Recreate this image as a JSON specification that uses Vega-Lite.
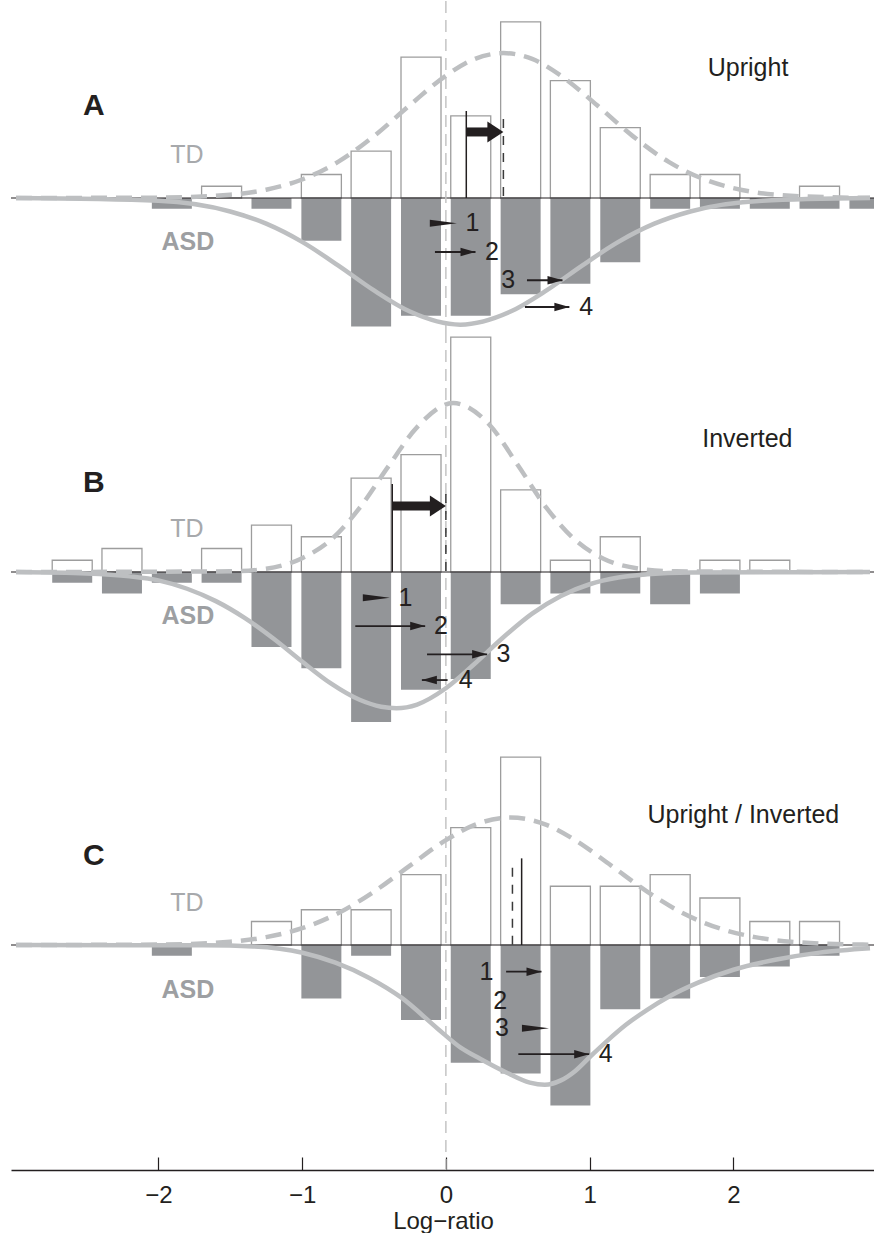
{
  "$schema": "https://vega.github.io/schema/vega-lite/v6.json",
  "padding": {"left": 10, "right": 0, "top": 0, "bottom": 0},
  "autosize": {"type": "pad"},
  "spacing": 0,
  "bounds": "flush",
  "config": {"view": {"stroke": null}, "font": "Liberation Sans"},
  "resolve": {"scale": {"x": "independent", "y": "independent"}},
  "datasets": {
    "bars": [
      {"panel": "A", "group": "TD", "x": -1.56, "y": 1.613},
      {"panel": "A", "group": "TD", "x": -0.866, "y": 3.226},
      {"panel": "A", "group": "TD", "x": -0.52, "y": 6.452},
      {"panel": "A", "group": "TD", "x": -0.173, "y": 19.355},
      {"panel": "A", "group": "TD", "x": 0.173, "y": 11.29},
      {"panel": "A", "group": "TD", "x": 0.52, "y": 24.194},
      {"panel": "A", "group": "TD", "x": 0.866, "y": 16.129},
      {"panel": "A", "group": "TD", "x": 1.213, "y": 9.677},
      {"panel": "A", "group": "TD", "x": 1.56, "y": 3.226},
      {"panel": "A", "group": "TD", "x": 1.906, "y": 3.226},
      {"panel": "A", "group": "TD", "x": 2.599, "y": 1.613},
      {"panel": "A", "group": "ASD", "x": -1.906, "y": -1.471},
      {"panel": "A", "group": "ASD", "x": -1.213, "y": -1.471},
      {"panel": "A", "group": "ASD", "x": -0.866, "y": -5.882},
      {"panel": "A", "group": "ASD", "x": -0.52, "y": -17.647},
      {"panel": "A", "group": "ASD", "x": -0.173, "y": -16.176},
      {"panel": "A", "group": "ASD", "x": 0.173, "y": -16.176},
      {"panel": "A", "group": "ASD", "x": 0.52, "y": -13.235},
      {"panel": "A", "group": "ASD", "x": 0.866, "y": -11.765},
      {"panel": "A", "group": "ASD", "x": 1.213, "y": -8.824},
      {"panel": "A", "group": "ASD", "x": 1.56, "y": -1.471},
      {"panel": "A", "group": "ASD", "x": 1.906, "y": -1.471},
      {"panel": "A", "group": "ASD", "x": 2.253, "y": -1.471},
      {"panel": "A", "group": "ASD", "x": 2.599, "y": -1.471},
      {"panel": "A", "group": "ASD", "x": 2.946, "y": -1.471},
      {"panel": "B", "group": "TD", "x": -2.599, "y": 1.613},
      {"panel": "B", "group": "TD", "x": -2.253, "y": 3.226},
      {"panel": "B", "group": "TD", "x": -1.56, "y": 3.226},
      {"panel": "B", "group": "TD", "x": -1.213, "y": 6.452},
      {"panel": "B", "group": "TD", "x": -0.866, "y": 4.839},
      {"panel": "B", "group": "TD", "x": -0.52, "y": 12.903},
      {"panel": "B", "group": "TD", "x": -0.173, "y": 16.129},
      {"panel": "B", "group": "TD", "x": 0.173, "y": 32.258},
      {"panel": "B", "group": "TD", "x": 0.52, "y": 11.29},
      {"panel": "B", "group": "TD", "x": 0.866, "y": 1.613},
      {"panel": "B", "group": "TD", "x": 1.213, "y": 4.839},
      {"panel": "B", "group": "TD", "x": 1.906, "y": 1.613},
      {"panel": "B", "group": "TD", "x": 2.253, "y": 1.613},
      {"panel": "B", "group": "ASD", "x": -2.599, "y": -1.471},
      {"panel": "B", "group": "ASD", "x": -2.253, "y": -2.941},
      {"panel": "B", "group": "ASD", "x": -1.906, "y": -1.471},
      {"panel": "B", "group": "ASD", "x": -1.56, "y": -1.471},
      {"panel": "B", "group": "ASD", "x": -1.213, "y": -10.294},
      {"panel": "B", "group": "ASD", "x": -0.866, "y": -13.235},
      {"panel": "B", "group": "ASD", "x": -0.52, "y": -20.588},
      {"panel": "B", "group": "ASD", "x": -0.173, "y": -16.176},
      {"panel": "B", "group": "ASD", "x": 0.173, "y": -14.706},
      {"panel": "B", "group": "ASD", "x": 0.52, "y": -4.412},
      {"panel": "B", "group": "ASD", "x": 0.866, "y": -2.941},
      {"panel": "B", "group": "ASD", "x": 1.213, "y": -2.941},
      {"panel": "B", "group": "ASD", "x": 1.56, "y": -4.412},
      {"panel": "B", "group": "ASD", "x": 1.906, "y": -2.941},
      {"panel": "C", "group": "TD", "x": -1.213, "y": 3.226},
      {"panel": "C", "group": "TD", "x": -0.866, "y": 4.839},
      {"panel": "C", "group": "TD", "x": -0.52, "y": 4.839},
      {"panel": "C", "group": "TD", "x": -0.173, "y": 9.677},
      {"panel": "C", "group": "TD", "x": 0.173, "y": 16.129},
      {"panel": "C", "group": "TD", "x": 0.52, "y": 25.806},
      {"panel": "C", "group": "TD", "x": 0.866, "y": 8.065},
      {"panel": "C", "group": "TD", "x": 1.213, "y": 8.065},
      {"panel": "C", "group": "TD", "x": 1.56, "y": 9.677},
      {"panel": "C", "group": "TD", "x": 1.906, "y": 6.452},
      {"panel": "C", "group": "TD", "x": 2.253, "y": 3.226},
      {"panel": "C", "group": "TD", "x": 2.599, "y": 3.226},
      {"panel": "C", "group": "ASD", "x": -1.906, "y": -1.471},
      {"panel": "C", "group": "ASD", "x": -0.866, "y": -7.353},
      {"panel": "C", "group": "ASD", "x": -0.52, "y": -1.471},
      {"panel": "C", "group": "ASD", "x": -0.173, "y": -10.294},
      {"panel": "C", "group": "ASD", "x": 0.173, "y": -16.176},
      {"panel": "C", "group": "ASD", "x": 0.52, "y": -17.647},
      {"panel": "C", "group": "ASD", "x": 0.866, "y": -22.059},
      {"panel": "C", "group": "ASD", "x": 1.213, "y": -8.824},
      {"panel": "C", "group": "ASD", "x": 1.56, "y": -7.353},
      {"panel": "C", "group": "ASD", "x": 1.906, "y": -4.412},
      {"panel": "C", "group": "ASD", "x": 2.253, "y": -2.941},
      {"panel": "C", "group": "ASD", "x": 2.599, "y": -1.471}
    ],
    "curves": [
      {"panel": "A", "group": "TD", "x": -2.99, "y": 0},
      {"panel": "A", "group": "TD", "x": -2.0, "y": 0.05},
      {"panel": "A", "group": "TD", "x": -1.5, "y": 0.45},
      {"panel": "A", "group": "TD", "x": -1.25, "y": 1.14},
      {"panel": "A", "group": "TD", "x": -1.0, "y": 2.54},
      {"panel": "A", "group": "TD", "x": -0.75, "y": 4.96},
      {"panel": "A", "group": "TD", "x": -0.5, "y": 8.5},
      {"panel": "A", "group": "TD", "x": -0.25, "y": 12.77},
      {"panel": "A", "group": "TD", "x": 0.0, "y": 16.8},
      {"panel": "A", "group": "TD", "x": 0.2, "y": 19.1},
      {"panel": "A", "group": "TD", "x": 0.4, "y": 19.9},
      {"panel": "A", "group": "TD", "x": 0.6, "y": 19.1},
      {"panel": "A", "group": "TD", "x": 0.8, "y": 16.8},
      {"panel": "A", "group": "TD", "x": 1.05, "y": 12.77},
      {"panel": "A", "group": "TD", "x": 1.3, "y": 8.5},
      {"panel": "A", "group": "TD", "x": 1.55, "y": 4.96},
      {"panel": "A", "group": "TD", "x": 1.8, "y": 2.54},
      {"panel": "A", "group": "TD", "x": 2.05, "y": 1.14},
      {"panel": "A", "group": "TD", "x": 2.3, "y": 0.45},
      {"panel": "A", "group": "TD", "x": 2.8, "y": 0.05},
      {"panel": "A", "group": "TD", "x": 2.95, "y": 0.02},
      {"panel": "A", "group": "ASD", "x": -2.99, "y": 0},
      {"panel": "A", "group": "ASD", "x": -2.0, "y": -0.37},
      {"panel": "A", "group": "ASD", "x": -1.5, "y": -1.85},
      {"panel": "A", "group": "ASD", "x": -1.25, "y": -3.53},
      {"panel": "A", "group": "ASD", "x": -1.0, "y": -6.03},
      {"panel": "A", "group": "ASD", "x": -0.75, "y": -9.25},
      {"panel": "A", "group": "ASD", "x": -0.5, "y": -12.7},
      {"panel": "A", "group": "ASD", "x": -0.25, "y": -15.6},
      {"panel": "A", "group": "ASD", "x": 0.1, "y": -17.4},
      {"panel": "A", "group": "ASD", "x": 0.45, "y": -15.6},
      {"panel": "A", "group": "ASD", "x": 0.7, "y": -12.7},
      {"panel": "A", "group": "ASD", "x": 0.95, "y": -9.25},
      {"panel": "A", "group": "ASD", "x": 1.2, "y": -6.03},
      {"panel": "A", "group": "ASD", "x": 1.45, "y": -3.53},
      {"panel": "A", "group": "ASD", "x": 1.7, "y": -1.85},
      {"panel": "A", "group": "ASD", "x": 2.2, "y": -0.37},
      {"panel": "A", "group": "ASD", "x": 2.95, "y": 0},
      {"panel": "B", "group": "TD", "x": -2.99, "y": 0},
      {"panel": "B", "group": "TD", "x": -1.5, "y": 0.09},
      {"panel": "B", "group": "TD", "x": -1.25, "y": 0.45},
      {"panel": "B", "group": "TD", "x": -1.0, "y": 1.9},
      {"panel": "B", "group": "TD", "x": -0.8, "y": 4.4},
      {"panel": "B", "group": "TD", "x": -0.6, "y": 8.8},
      {"panel": "B", "group": "TD", "x": -0.4, "y": 14.5},
      {"panel": "B", "group": "TD", "x": -0.2, "y": 19.9},
      {"panel": "B", "group": "TD", "x": 0.05, "y": 23.2},
      {"panel": "B", "group": "TD", "x": 0.3, "y": 20.3},
      {"panel": "B", "group": "TD", "x": 0.5, "y": 14.7},
      {"panel": "B", "group": "TD", "x": 0.7, "y": 8.8},
      {"panel": "B", "group": "TD", "x": 0.9, "y": 4.4},
      {"panel": "B", "group": "TD", "x": 1.1, "y": 1.8},
      {"panel": "B", "group": "TD", "x": 1.35, "y": 0.45},
      {"panel": "B", "group": "TD", "x": 1.6, "y": 0.09},
      {"panel": "B", "group": "TD", "x": 2.95, "y": 0},
      {"panel": "B", "group": "ASD", "x": -2.99, "y": 0},
      {"panel": "B", "group": "ASD", "x": -2.5, "y": -0.2},
      {"panel": "B", "group": "ASD", "x": -2.2, "y": -0.6},
      {"panel": "B", "group": "ASD", "x": -2.0, "y": -1.15},
      {"panel": "B", "group": "ASD", "x": -1.8, "y": -2.3},
      {"panel": "B", "group": "ASD", "x": -1.6, "y": -4.0},
      {"panel": "B", "group": "ASD", "x": -1.4, "y": -6.3},
      {"panel": "B", "group": "ASD", "x": -1.2, "y": -9.13},
      {"panel": "B", "group": "ASD", "x": -1.0, "y": -12.3},
      {"panel": "B", "group": "ASD", "x": -0.8, "y": -15.3},
      {"panel": "B", "group": "ASD", "x": -0.6, "y": -17.55},
      {"panel": "B", "group": "ASD", "x": -0.45, "y": -18.5},
      {"panel": "B", "group": "ASD", "x": -0.344, "y": -18.7},
      {"panel": "B", "group": "ASD", "x": -0.2, "y": -18.2},
      {"panel": "B", "group": "ASD", "x": 0.0, "y": -15.97},
      {"panel": "B", "group": "ASD", "x": 0.2, "y": -12.6},
      {"panel": "B", "group": "ASD", "x": 0.4, "y": -8.96},
      {"panel": "B", "group": "ASD", "x": 0.6, "y": -5.72},
      {"panel": "B", "group": "ASD", "x": 0.8, "y": -3.29},
      {"panel": "B", "group": "ASD", "x": 1.0, "y": -1.68},
      {"panel": "B", "group": "ASD", "x": 1.2, "y": -0.76},
      {"panel": "B", "group": "ASD", "x": 1.4, "y": -0.32},
      {"panel": "B", "group": "ASD", "x": 1.7, "y": -0.07},
      {"panel": "B", "group": "ASD", "x": 2.95, "y": 0},
      {"panel": "C", "group": "TD", "x": -2.99, "y": 0},
      {"panel": "C", "group": "TD", "x": -2.0, "y": 0.05},
      {"panel": "C", "group": "TD", "x": -1.5, "y": 0.45},
      {"panel": "C", "group": "TD", "x": -1.25, "y": 1.08},
      {"panel": "C", "group": "TD", "x": -1.0, "y": 2.3},
      {"panel": "C", "group": "TD", "x": -0.75, "y": 4.36},
      {"panel": "C", "group": "TD", "x": -0.5, "y": 7.33},
      {"panel": "C", "group": "TD", "x": -0.25, "y": 10.9},
      {"panel": "C", "group": "TD", "x": 0.0, "y": 14.4},
      {"panel": "C", "group": "TD", "x": 0.2, "y": 16.5},
      {"panel": "C", "group": "TD", "x": 0.45, "y": 17.5},
      {"panel": "C", "group": "TD", "x": 0.7, "y": 16.5},
      {"panel": "C", "group": "TD", "x": 0.9, "y": 14.4},
      {"panel": "C", "group": "TD", "x": 1.15, "y": 10.9},
      {"panel": "C", "group": "TD", "x": 1.4, "y": 7.33},
      {"panel": "C", "group": "TD", "x": 1.65, "y": 4.36},
      {"panel": "C", "group": "TD", "x": 1.9, "y": 2.3},
      {"panel": "C", "group": "TD", "x": 2.15, "y": 1.08},
      {"panel": "C", "group": "TD", "x": 2.4, "y": 0.45},
      {"panel": "C", "group": "TD", "x": 2.9, "y": 0.05},
      {"panel": "C", "group": "TD", "x": 2.95, "y": 0.04},
      {"panel": "C", "group": "ASD", "x": -2.99, "y": 0},
      {"panel": "C", "group": "ASD", "x": -1.684, "y": -0.05},
      {"panel": "C", "group": "ASD", "x": -1.341, "y": -0.2},
      {"panel": "C", "group": "ASD", "x": -0.997, "y": -1.06},
      {"panel": "C", "group": "ASD", "x": -0.768, "y": -2.43},
      {"panel": "C", "group": "ASD", "x": -0.536, "y": -4.49},
      {"panel": "C", "group": "ASD", "x": -0.309, "y": -7.24},
      {"panel": "C", "group": "ASD", "x": -0.057, "y": -11.5},
      {"panel": "C", "group": "ASD", "x": 0.103, "y": -14.1},
      {"panel": "C", "group": "ASD", "x": 0.241, "y": -15.66},
      {"panel": "C", "group": "ASD", "x": 0.424, "y": -17.54},
      {"panel": "C", "group": "ASD", "x": 0.584, "y": -18.9},
      {"panel": "C", "group": "ASD", "x": 0.688, "y": -19.2},
      {"panel": "C", "group": "ASD", "x": 0.8, "y": -18.6},
      {"panel": "C", "group": "ASD", "x": 0.9, "y": -17.3},
      {"panel": "C", "group": "ASD", "x": 1.008, "y": -15.25},
      {"panel": "C", "group": "ASD", "x": 1.12, "y": -13.2},
      {"panel": "C", "group": "ASD", "x": 1.25, "y": -11.0},
      {"panel": "C", "group": "ASD", "x": 1.4, "y": -8.9},
      {"panel": "C", "group": "ASD", "x": 1.55, "y": -7.1},
      {"panel": "C", "group": "ASD", "x": 1.75, "y": -5.2},
      {"panel": "C", "group": "ASD", "x": 2.0, "y": -3.4},
      {"panel": "C", "group": "ASD", "x": 2.3, "y": -2.0},
      {"panel": "C", "group": "ASD", "x": 2.6, "y": -1.05},
      {"panel": "C", "group": "ASD", "x": 2.95, "y": -0.45}
    ],
    "means": [
      {"panel": "A", "group": "ASD", "x": 0.142, "y": 11.95},
      {"panel": "A", "group": "TD", "x": 0.4, "y": 10.85},
      {"panel": "B", "group": "ASD", "x": -0.373, "y": 12.1},
      {"panel": "B", "group": "TD", "x": 0.0, "y": 10.7},
      {"panel": "C", "group": "TD", "x": 0.463, "y": 10.6},
      {"panel": "C", "group": "ASD", "x": 0.527, "y": 11.9}
    ],
    "shifts": [
      {"panel": "A", "x": 0.142, "xe": 0.4, "y": 9.07},
      {"panel": "B", "x": -0.373, "xe": 0.0, "y": 9.07}
    ],
    "arrows": [
      {"panel": "A", "n": "1", "x": -0.103, "xe": 0.076, "y": -3.48},
      {"panel": "A", "n": "2", "x": -0.076, "xe": 0.206, "y": -7.42},
      {"panel": "A", "n": "3", "x": 0.564, "xe": 0.811, "y": -11.3},
      {"panel": "A", "n": "4", "x": 0.55, "xe": 0.859, "y": -14.97},
      {"panel": "B", "n": "1", "x": -0.573, "xe": -0.39, "y": -3.53},
      {"panel": "B", "n": "2", "x": -0.63, "xe": -0.144, "y": -7.42},
      {"panel": "B", "n": "3", "x": -0.131, "xe": 0.287, "y": -11.3},
      {"panel": "B", "n": "4", "x": 0.012, "xe": -0.167, "y": -14.84},
      {"panel": "C", "n": "1", "x": 0.419, "xe": 0.665, "y": -3.67},
      {"panel": "C", "n": "3", "x": 0.516, "xe": 0.717, "y": -11.45},
      {"panel": "C", "n": "4", "x": 0.504, "xe": 0.997, "y": -15.0}
    ],
    "labels": [
      {"panel": "A", "kind": "letter", "text": "A", "x": -2.448, "y": 12.64},
      {"panel": "A", "kind": "TD", "text": "TD", "x": -1.801, "y": 5.91},
      {"panel": "A", "kind": "ASD", "text": "ASD", "x": -1.794, "y": -6.04},
      {"panel": "A", "kind": "condition", "text": "Upright", "x": 2.102, "y": 17.9},
      {"panel": "A", "kind": "number", "text": "1", "x": 0.184, "y": -3.48},
      {"panel": "A", "kind": "number", "text": "2", "x": 0.321, "y": -7.42},
      {"panel": "A", "kind": "number", "text": "3", "x": 0.433, "y": -11.3},
      {"panel": "A", "kind": "number", "text": "4", "x": 0.976, "y": -14.97},
      {"panel": "B", "kind": "letter", "text": "B", "x": -2.448, "y": 12.23},
      {"panel": "B", "kind": "TD", "text": "TD", "x": -1.801, "y": 5.95},
      {"panel": "B", "kind": "ASD", "text": "ASD", "x": -1.794, "y": -6.04},
      {"panel": "B", "kind": "condition", "text": "Inverted", "x": 2.097, "y": 18.27},
      {"panel": "B", "kind": "number", "text": "1", "x": -0.282, "y": -3.53},
      {"panel": "B", "kind": "number", "text": "2", "x": -0.034, "y": -7.42},
      {"panel": "B", "kind": "number", "text": "3", "x": 0.401, "y": -11.3},
      {"panel": "B", "kind": "number", "text": "4", "x": 0.138, "y": -14.84},
      {"panel": "C", "kind": "letter", "text": "C", "x": -2.448, "y": 12.23},
      {"panel": "C", "kind": "TD", "text": "TD", "x": -1.801, "y": 5.81},
      {"panel": "C", "kind": "ASD", "text": "ASD", "x": -1.794, "y": -6.18},
      {"panel": "C", "kind": "condition", "text": "Upright / Inverted", "x": 2.069, "y": 17.86},
      {"panel": "C", "kind": "number", "text": "1", "x": 0.282, "y": -3.67},
      {"panel": "C", "kind": "number", "text": "2", "x": 0.378, "y": -7.69},
      {"panel": "C", "kind": "number", "text": "3", "x": 0.39, "y": -11.45},
      {"panel": "C", "kind": "number", "text": "4", "x": 1.112, "y": -15.0}
    ]
  },
  "vconcat": [
    {
      "width": 864,
      "height": 330,
      "layer": [
        {"data": {"name": "bars"}, "transform": [{"filter": "datum.panel === 'A' && datum.group === 'TD'"}],
         "mark": {"type": "bar", "width": 40, "fill": "#ffffff", "stroke": "#9d9d9d", "strokeWidth": 1.3, "clip": true},
         "encoding": {
           "x": {"field": "x", "type": "quantitative", "scale": {"domain": [-2.99, 2.95], "nice": false, "zero": false}, "axis": null},
           "y": {"field": "y", "type": "quantitative", "scale": {"domain": [-18.27, 27.06], "nice": false, "zero": false}, "axis": null},
           "y2": {"datum": 0}}},
        {"data": {"name": "bars"}, "transform": [{"filter": "datum.panel === 'A' && datum.group === 'ASD'"}],
         "mark": {"type": "bar", "width": 40, "fill": "#939598", "strokeWidth": 0, "clip": true},
         "encoding": {
           "x": {"field": "x", "type": "quantitative", "scale": {"domain": [-2.99, 2.95], "nice": false, "zero": false}, "axis": null},
           "y": {"field": "y", "type": "quantitative", "scale": {"domain": [-18.27, 27.06], "nice": false, "zero": false}, "axis": null},
           "y2": {"datum": 0}}},
        {"data": {"values": [{}]}, "mark": {"type": "rule", "color": "#231f20", "strokeWidth": 1.2},
         "encoding": {"y": {"datum": 0, "type": "quantitative", "scale": {"domain": [-18.27, 27.06], "nice": false, "zero": false}, "axis": null}}},
        {"data": {"values": [{}]}, "mark": {"type": "rule", "color": "#c4c4c4", "strokeWidth": 1.5, "strokeDash": [12, 7]},
         "encoding": {"x": {"datum": 0, "type": "quantitative", "scale": {"domain": [-2.99, 2.95], "nice": false, "zero": false}, "axis": null}}},
        {"data": {"name": "curves"}, "transform": [{"filter": "datum.panel === 'A' && datum.group === 'ASD'"}],
         "mark": {"type": "line", "color": "#bdbfc1", "strokeWidth": 4.5, "interpolate": "monotone", "clip": true},
         "encoding": {
           "x": {"field": "x", "type": "quantitative", "scale": {"domain": [-2.99, 2.95], "nice": false, "zero": false}, "axis": null},
           "y": {"field": "y", "type": "quantitative", "scale": {"domain": [-18.27, 27.06], "nice": false, "zero": false}, "axis": null}}},
        {"data": {"name": "curves"}, "transform": [{"filter": "datum.panel === 'A' && datum.group === 'TD'"}],
         "mark": {"type": "line", "color": "#bdbfc1", "strokeWidth": 4.5, "strokeDash": [16, 9], "interpolate": "monotone", "clip": true},
         "encoding": {
           "x": {"field": "x", "type": "quantitative", "scale": {"domain": [-2.99, 2.95], "nice": false, "zero": false}, "axis": null},
           "y": {"field": "y", "type": "quantitative", "scale": {"domain": [-18.27, 27.06], "nice": false, "zero": false}, "axis": null}}},
        {"data": {"name": "means"}, "transform": [{"filter": "datum.panel === 'A' && datum.group === 'ASD'"}],
         "mark": {"type": "rule", "color": "#231f20", "strokeWidth": 1.5},
         "encoding": {
           "x": {"field": "x", "type": "quantitative", "scale": {"domain": [-2.99, 2.95], "nice": false, "zero": false}, "axis": null},
           "y": {"field": "y", "type": "quantitative", "scale": {"domain": [-18.27, 27.06], "nice": false, "zero": false}, "axis": null},
           "y2": {"datum": 0}}},
        {"data": {"name": "means"}, "transform": [{"filter": "datum.panel === 'A' && datum.group === 'TD'"}],
         "mark": {"type": "rule", "color": "#3a3a3a", "strokeWidth": 1.5, "strokeDash": [9, 8]},
         "encoding": {
           "x": {"field": "x", "type": "quantitative", "scale": {"domain": [-2.99, 2.95], "nice": false, "zero": false}, "axis": null},
           "y": {"field": "y", "type": "quantitative", "scale": {"domain": [-18.27, 27.06], "nice": false, "zero": false}, "axis": null},
           "y2": {"datum": 0}}},
        {"data": {"name": "shifts"}, "transform": [{"filter": "datum.panel === 'A'"}],
         "mark": {"type": "rule", "color": "#231f20", "strokeWidth": 9, "x2Offset": -14},
         "encoding": {
           "x": {"field": "x", "type": "quantitative", "scale": {"domain": [-2.99, 2.95], "nice": false, "zero": false}, "axis": null},
           "x2": {"field": "xe"},
           "y": {"field": "y", "type": "quantitative", "scale": {"domain": [-18.27, 27.06], "nice": false, "zero": false}, "axis": null}}},
        {"data": {"name": "shifts"}, "transform": [{"filter": "datum.panel === 'A'"}],
         "mark": {"type": "point", "shape": "M0,0L-1,-0.66L-1,0.66Z", "size": 1024, "filled": true, "opacity": 1, "color": "#231f20", "strokeWidth": 0},
         "encoding": {
           "x": {"field": "xe", "type": "quantitative", "scale": {"domain": [-2.99, 2.95], "nice": false, "zero": false}, "axis": null},
           "y": {"field": "y", "type": "quantitative", "scale": {"domain": [-18.27, 27.06], "nice": false, "zero": false}, "axis": null}}},
        {"data": {"name": "arrows"}, "transform": [{"filter": "datum.panel === 'A' && !(datum.xe > datum.x && datum.xe - datum.x < 0.21)"}],
         "mark": {"type": "rule", "color": "#231f20", "strokeWidth": 1.8},
         "encoding": {
           "x": {"field": "x", "type": "quantitative", "scale": {"domain": [-2.99, 2.95], "nice": false, "zero": false}, "axis": null},
           "x2": {"field": "xe"},
           "y": {"field": "y", "type": "quantitative", "scale": {"domain": [-18.27, 27.06], "nice": false, "zero": false}, "axis": null}}},
        {"data": {"name": "arrows"}, "transform": [{"filter": "datum.panel === 'A' && !(datum.xe > datum.x && datum.xe - datum.x < 0.21)"}],
         "mark": {"type": "point", "shape": "M0,0L-1,-0.28L-1,0.28Z", "size": 900, "filled": true, "opacity": 1, "color": "#231f20", "strokeWidth": 0},
         "encoding": {
           "x": {"field": "xe", "type": "quantitative", "scale": {"domain": [-2.99, 2.95], "nice": false, "zero": false}, "axis": null},
           "y": {"field": "y", "type": "quantitative", "scale": {"domain": [-18.27, 27.06], "nice": false, "zero": false}, "axis": null},
           "angle": {"condition": {"test": "datum.xe < datum.x", "value": 180}, "value": 0}}},
        {"data": {"name": "arrows"}, "transform": [{"filter": "datum.panel === 'A' && datum.xe > datum.x && datum.xe - datum.x < 0.21"}],
         "mark": {"type": "point", "shape": "M0,0L-1,-0.13L-1,0.13Z", "size": 2916, "filled": true, "opacity": 1, "color": "#231f20", "strokeWidth": 0},
         "encoding": {
           "x": {"field": "xe", "type": "quantitative", "scale": {"domain": [-2.99, 2.95], "nice": false, "zero": false}, "axis": null},
           "y": {"field": "y", "type": "quantitative", "scale": {"domain": [-18.27, 27.06], "nice": false, "zero": false}, "axis": null}}},
        {"data": {"name": "labels"}, "transform": [{"filter": "datum.panel === 'A' && datum.kind === 'letter'"}],
         "mark": {"type": "text", "fontSize": 30, "fontWeight": "bold", "color": "#231f20", "align": "center", "baseline": "middle"},
         "encoding": {
           "x": {"field": "x", "type": "quantitative", "scale": {"domain": [-2.99, 2.95], "nice": false, "zero": false}, "axis": null},
           "y": {"field": "y", "type": "quantitative", "scale": {"domain": [-18.27, 27.06], "nice": false, "zero": false}, "axis": null},
           "text": {"field": "text"}}},
        {"data": {"name": "labels"}, "transform": [{"filter": "datum.panel === 'A' && datum.kind === 'TD'"}],
         "mark": {"type": "text", "fontSize": 25, "color": "#a7a9ac", "align": "center", "baseline": "middle"},
         "encoding": {
           "x": {"field": "x", "type": "quantitative", "scale": {"domain": [-2.99, 2.95], "nice": false, "zero": false}, "axis": null},
           "y": {"field": "y", "type": "quantitative", "scale": {"domain": [-18.27, 27.06], "nice": false, "zero": false}, "axis": null},
           "text": {"field": "text"}}},
        {"data": {"name": "labels"}, "transform": [{"filter": "datum.panel === 'A' && datum.kind === 'ASD'"}],
         "mark": {"type": "text", "fontSize": 25, "fontWeight": "bold", "color": "#9d9fa2", "align": "center", "baseline": "middle"},
         "encoding": {
           "x": {"field": "x", "type": "quantitative", "scale": {"domain": [-2.99, 2.95], "nice": false, "zero": false}, "axis": null},
           "y": {"field": "y", "type": "quantitative", "scale": {"domain": [-18.27, 27.06], "nice": false, "zero": false}, "axis": null},
           "text": {"field": "text"}}},
        {"data": {"name": "labels"}, "transform": [{"filter": "datum.panel === 'A' && (datum.kind === 'condition' || datum.kind === 'number')"}],
         "mark": {"type": "text", "fontSize": 25, "color": "#231f20", "align": "center", "baseline": "middle"},
         "encoding": {
           "x": {"field": "x", "type": "quantitative", "scale": {"domain": [-2.99, 2.95], "nice": false, "zero": false}, "axis": null},
           "y": {"field": "y", "type": "quantitative", "scale": {"domain": [-18.27, 27.06], "nice": false, "zero": false}, "axis": null},
           "text": {"field": "text"}}}
      ]
    },
    {
      "width": 864,
      "height": 410,
      "layer": [
        {"data": {"name": "bars"}, "transform": [{"filter": "datum.panel === 'B' && datum.group === 'TD'"}],
         "mark": {"type": "bar", "width": 40, "fill": "#ffffff", "stroke": "#9d9d9d", "strokeWidth": 1.3, "clip": true},
         "encoding": {
           "x": {"field": "x", "type": "quantitative", "scale": {"domain": [-2.99, 2.95], "nice": false, "zero": false}, "axis": null},
           "y": {"field": "y", "type": "quantitative", "scale": {"domain": [-23.21, 33.1], "nice": false, "zero": false}, "axis": null},
           "y2": {"datum": 0}}},
        {"data": {"name": "bars"}, "transform": [{"filter": "datum.panel === 'B' && datum.group === 'ASD'"}],
         "mark": {"type": "bar", "width": 40, "fill": "#939598", "strokeWidth": 0, "clip": true},
         "encoding": {
           "x": {"field": "x", "type": "quantitative", "scale": {"domain": [-2.99, 2.95], "nice": false, "zero": false}, "axis": null},
           "y": {"field": "y", "type": "quantitative", "scale": {"domain": [-23.21, 33.1], "nice": false, "zero": false}, "axis": null},
           "y2": {"datum": 0}}},
        {"data": {"values": [{}]}, "mark": {"type": "rule", "color": "#231f20", "strokeWidth": 1.2},
         "encoding": {"y": {"datum": 0, "type": "quantitative", "scale": {"domain": [-23.21, 33.1], "nice": false, "zero": false}, "axis": null}}},
        {"data": {"values": [{}]}, "mark": {"type": "rule", "color": "#c4c4c4", "strokeWidth": 1.5, "strokeDash": [12, 7]},
         "encoding": {"x": {"datum": 0, "type": "quantitative", "scale": {"domain": [-2.99, 2.95], "nice": false, "zero": false}, "axis": null}}},
        {"data": {"name": "curves"}, "transform": [{"filter": "datum.panel === 'B' && datum.group === 'ASD'"}],
         "mark": {"type": "line", "color": "#bdbfc1", "strokeWidth": 4.5, "interpolate": "monotone", "clip": true},
         "encoding": {
           "x": {"field": "x", "type": "quantitative", "scale": {"domain": [-2.99, 2.95], "nice": false, "zero": false}, "axis": null},
           "y": {"field": "y", "type": "quantitative", "scale": {"domain": [-23.21, 33.1], "nice": false, "zero": false}, "axis": null}}},
        {"data": {"name": "curves"}, "transform": [{"filter": "datum.panel === 'B' && datum.group === 'TD'"}],
         "mark": {"type": "line", "color": "#bdbfc1", "strokeWidth": 4.5, "strokeDash": [16, 9], "interpolate": "monotone", "clip": true},
         "encoding": {
           "x": {"field": "x", "type": "quantitative", "scale": {"domain": [-2.99, 2.95], "nice": false, "zero": false}, "axis": null},
           "y": {"field": "y", "type": "quantitative", "scale": {"domain": [-23.21, 33.1], "nice": false, "zero": false}, "axis": null}}},
        {"data": {"name": "means"}, "transform": [{"filter": "datum.panel === 'B' && datum.group === 'ASD'"}],
         "mark": {"type": "rule", "color": "#231f20", "strokeWidth": 1.5},
         "encoding": {
           "x": {"field": "x", "type": "quantitative", "scale": {"domain": [-2.99, 2.95], "nice": false, "zero": false}, "axis": null},
           "y": {"field": "y", "type": "quantitative", "scale": {"domain": [-23.21, 33.1], "nice": false, "zero": false}, "axis": null},
           "y2": {"datum": 0}}},
        {"data": {"name": "means"}, "transform": [{"filter": "datum.panel === 'B' && datum.group === 'TD'"}],
         "mark": {"type": "rule", "color": "#3a3a3a", "strokeWidth": 1.5, "strokeDash": [9, 8]},
         "encoding": {
           "x": {"field": "x", "type": "quantitative", "scale": {"domain": [-2.99, 2.95], "nice": false, "zero": false}, "axis": null},
           "y": {"field": "y", "type": "quantitative", "scale": {"domain": [-23.21, 33.1], "nice": false, "zero": false}, "axis": null},
           "y2": {"datum": 0}}},
        {"data": {"name": "shifts"}, "transform": [{"filter": "datum.panel === 'B'"}],
         "mark": {"type": "rule", "color": "#231f20", "strokeWidth": 9, "x2Offset": -14},
         "encoding": {
           "x": {"field": "x", "type": "quantitative", "scale": {"domain": [-2.99, 2.95], "nice": false, "zero": false}, "axis": null},
           "x2": {"field": "xe"},
           "y": {"field": "y", "type": "quantitative", "scale": {"domain": [-23.21, 33.1], "nice": false, "zero": false}, "axis": null}}},
        {"data": {"name": "shifts"}, "transform": [{"filter": "datum.panel === 'B'"}],
         "mark": {"type": "point", "shape": "M0,0L-1,-0.66L-1,0.66Z", "size": 1024, "filled": true, "opacity": 1, "color": "#231f20", "strokeWidth": 0},
         "encoding": {
           "x": {"field": "xe", "type": "quantitative", "scale": {"domain": [-2.99, 2.95], "nice": false, "zero": false}, "axis": null},
           "y": {"field": "y", "type": "quantitative", "scale": {"domain": [-23.21, 33.1], "nice": false, "zero": false}, "axis": null}}},
        {"data": {"name": "arrows"}, "transform": [{"filter": "datum.panel === 'B' && !(datum.xe > datum.x && datum.xe - datum.x < 0.21)"}],
         "mark": {"type": "rule", "color": "#231f20", "strokeWidth": 1.8},
         "encoding": {
           "x": {"field": "x", "type": "quantitative", "scale": {"domain": [-2.99, 2.95], "nice": false, "zero": false}, "axis": null},
           "x2": {"field": "xe"},
           "y": {"field": "y", "type": "quantitative", "scale": {"domain": [-23.21, 33.1], "nice": false, "zero": false}, "axis": null}}},
        {"data": {"name": "arrows"}, "transform": [{"filter": "datum.panel === 'B' && !(datum.xe > datum.x && datum.xe - datum.x < 0.21)"}],
         "mark": {"type": "point", "shape": "M0,0L-1,-0.28L-1,0.28Z", "size": 900, "filled": true, "opacity": 1, "color": "#231f20", "strokeWidth": 0},
         "encoding": {
           "x": {"field": "xe", "type": "quantitative", "scale": {"domain": [-2.99, 2.95], "nice": false, "zero": false}, "axis": null},
           "y": {"field": "y", "type": "quantitative", "scale": {"domain": [-23.21, 33.1], "nice": false, "zero": false}, "axis": null},
           "angle": {"condition": {"test": "datum.xe < datum.x", "value": 180}, "value": 0}}},
        {"data": {"name": "arrows"}, "transform": [{"filter": "datum.panel === 'B' && datum.xe > datum.x && datum.xe - datum.x < 0.21"}],
         "mark": {"type": "point", "shape": "M0,0L-1,-0.13L-1,0.13Z", "size": 2916, "filled": true, "opacity": 1, "color": "#231f20", "strokeWidth": 0},
         "encoding": {
           "x": {"field": "xe", "type": "quantitative", "scale": {"domain": [-2.99, 2.95], "nice": false, "zero": false}, "axis": null},
           "y": {"field": "y", "type": "quantitative", "scale": {"domain": [-23.21, 33.1], "nice": false, "zero": false}, "axis": null}}},
        {"data": {"name": "labels"}, "transform": [{"filter": "datum.panel === 'B' && datum.kind === 'letter'"}],
         "mark": {"type": "text", "fontSize": 30, "fontWeight": "bold", "color": "#231f20", "align": "center", "baseline": "middle"},
         "encoding": {
           "x": {"field": "x", "type": "quantitative", "scale": {"domain": [-2.99, 2.95], "nice": false, "zero": false}, "axis": null},
           "y": {"field": "y", "type": "quantitative", "scale": {"domain": [-23.21, 33.1], "nice": false, "zero": false}, "axis": null},
           "text": {"field": "text"}}},
        {"data": {"name": "labels"}, "transform": [{"filter": "datum.panel === 'B' && datum.kind === 'TD'"}],
         "mark": {"type": "text", "fontSize": 25, "color": "#a7a9ac", "align": "center", "baseline": "middle"},
         "encoding": {
           "x": {"field": "x", "type": "quantitative", "scale": {"domain": [-2.99, 2.95], "nice": false, "zero": false}, "axis": null},
           "y": {"field": "y", "type": "quantitative", "scale": {"domain": [-23.21, 33.1], "nice": false, "zero": false}, "axis": null},
           "text": {"field": "text"}}},
        {"data": {"name": "labels"}, "transform": [{"filter": "datum.panel === 'B' && datum.kind === 'ASD'"}],
         "mark": {"type": "text", "fontSize": 25, "fontWeight": "bold", "color": "#9d9fa2", "align": "center", "baseline": "middle"},
         "encoding": {
           "x": {"field": "x", "type": "quantitative", "scale": {"domain": [-2.99, 2.95], "nice": false, "zero": false}, "axis": null},
           "y": {"field": "y", "type": "quantitative", "scale": {"domain": [-23.21, 33.1], "nice": false, "zero": false}, "axis": null},
           "text": {"field": "text"}}},
        {"data": {"name": "labels"}, "transform": [{"filter": "datum.panel === 'B' && (datum.kind === 'condition' || datum.kind === 'number')"}],
         "mark": {"type": "text", "fontSize": 25, "color": "#231f20", "align": "center", "baseline": "middle"},
         "encoding": {
           "x": {"field": "x", "type": "quantitative", "scale": {"domain": [-2.99, 2.95], "nice": false, "zero": false}, "axis": null},
           "y": {"field": "y", "type": "quantitative", "scale": {"domain": [-23.21, 33.1], "nice": false, "zero": false}, "axis": null},
           "text": {"field": "text"}}}
      ]
    },
    {
      "width": 864,
      "height": 429,
      "layer": [
        {"data": {"name": "bars"}, "transform": [{"filter": "datum.panel === 'C' && datum.group === 'TD'"}],
         "mark": {"type": "bar", "width": 40, "fill": "#ffffff", "stroke": "#9d9d9d", "strokeWidth": 1.3, "clip": true},
         "encoding": {
           "x": {"field": "x", "type": "quantitative", "scale": {"domain": [-2.99, 2.95], "nice": false, "zero": false},
                 "axis": {"values": [-2, -1, 0, 1, 2], "format": "d", "title": "Log−ratio", "grid": false,
                          "domainColor": "#231f20", "domainWidth": 1.5, "tickColor": "#231f20", "tickWidth": 1.2, "tickSize": -13,
                          "labelFont": "Liberation Sans", "labelFontSize": 24, "labelColor": "#231f20", "labelPadding": 26, "labelFlush": false,
                          "titleFont": "Liberation Sans", "titleFontSize": 24, "titleFontWeight": "normal", "titleColor": "#231f20", "titlePadding": 2}},
           "y": {"field": "y", "type": "quantitative", "scale": {"domain": [-30.91, 28.02], "nice": false, "zero": false}, "axis": null},
           "y2": {"datum": 0}}},
        {"data": {"name": "bars"}, "transform": [{"filter": "datum.panel === 'C' && datum.group === 'ASD'"}],
         "mark": {"type": "bar", "width": 40, "fill": "#939598", "strokeWidth": 0, "clip": true},
         "encoding": {
           "x": {"field": "x", "type": "quantitative", "scale": {"domain": [-2.99, 2.95], "nice": false, "zero": false}},
           "y": {"field": "y", "type": "quantitative", "scale": {"domain": [-30.91, 28.02], "nice": false, "zero": false}, "axis": null},
           "y2": {"datum": 0}}},
        {"data": {"values": [{}]}, "mark": {"type": "rule", "color": "#231f20", "strokeWidth": 1.2},
         "encoding": {"y": {"datum": 0, "type": "quantitative", "scale": {"domain": [-30.91, 28.02], "nice": false, "zero": false}, "axis": null}}},
        {"data": {"values": [{}]}, "mark": {"type": "rule", "color": "#c4c4c4", "strokeWidth": 1.5, "strokeDash": [12, 7]},
         "encoding": {"x": {"datum": 0, "type": "quantitative", "scale": {"domain": [-2.99, 2.95], "nice": false, "zero": false}}}},
        {"data": {"name": "curves"}, "transform": [{"filter": "datum.panel === 'C' && datum.group === 'ASD'"}],
         "mark": {"type": "line", "color": "#bdbfc1", "strokeWidth": 4.5, "interpolate": "monotone", "clip": true},
         "encoding": {
           "x": {"field": "x", "type": "quantitative", "scale": {"domain": [-2.99, 2.95], "nice": false, "zero": false}},
           "y": {"field": "y", "type": "quantitative", "scale": {"domain": [-30.91, 28.02], "nice": false, "zero": false}, "axis": null}}},
        {"data": {"name": "curves"}, "transform": [{"filter": "datum.panel === 'C' && datum.group === 'TD'"}],
         "mark": {"type": "line", "color": "#bdbfc1", "strokeWidth": 4.5, "strokeDash": [16, 9], "interpolate": "monotone", "clip": true},
         "encoding": {
           "x": {"field": "x", "type": "quantitative", "scale": {"domain": [-2.99, 2.95], "nice": false, "zero": false}},
           "y": {"field": "y", "type": "quantitative", "scale": {"domain": [-30.91, 28.02], "nice": false, "zero": false}, "axis": null}}},
        {"data": {"name": "means"}, "transform": [{"filter": "datum.panel === 'C' && datum.group === 'ASD'"}],
         "mark": {"type": "rule", "color": "#231f20", "strokeWidth": 1.5},
         "encoding": {
           "x": {"field": "x", "type": "quantitative", "scale": {"domain": [-2.99, 2.95], "nice": false, "zero": false}},
           "y": {"field": "y", "type": "quantitative", "scale": {"domain": [-30.91, 28.02], "nice": false, "zero": false}, "axis": null},
           "y2": {"datum": 0}}},
        {"data": {"name": "means"}, "transform": [{"filter": "datum.panel === 'C' && datum.group === 'TD'"}],
         "mark": {"type": "rule", "color": "#3a3a3a", "strokeWidth": 1.5, "strokeDash": [9, 8]},
         "encoding": {
           "x": {"field": "x", "type": "quantitative", "scale": {"domain": [-2.99, 2.95], "nice": false, "zero": false}},
           "y": {"field": "y", "type": "quantitative", "scale": {"domain": [-30.91, 28.02], "nice": false, "zero": false}, "axis": null},
           "y2": {"datum": 0}}},
        {"data": {"name": "arrows"}, "transform": [{"filter": "datum.panel === 'C' && !(datum.xe > datum.x && datum.xe - datum.x < 0.21)"}],
         "mark": {"type": "rule", "color": "#231f20", "strokeWidth": 1.8},
         "encoding": {
           "x": {"field": "x", "type": "quantitative", "scale": {"domain": [-2.99, 2.95], "nice": false, "zero": false}},
           "x2": {"field": "xe"},
           "y": {"field": "y", "type": "quantitative", "scale": {"domain": [-30.91, 28.02], "nice": false, "zero": false}, "axis": null}}},
        {"data": {"name": "arrows"}, "transform": [{"filter": "datum.panel === 'C' && !(datum.xe > datum.x && datum.xe - datum.x < 0.21)"}],
         "mark": {"type": "point", "shape": "M0,0L-1,-0.28L-1,0.28Z", "size": 900, "filled": true, "opacity": 1, "color": "#231f20", "strokeWidth": 0},
         "encoding": {
           "x": {"field": "xe", "type": "quantitative", "scale": {"domain": [-2.99, 2.95], "nice": false, "zero": false}},
           "y": {"field": "y", "type": "quantitative", "scale": {"domain": [-30.91, 28.02], "nice": false, "zero": false}, "axis": null},
           "angle": {"condition": {"test": "datum.xe < datum.x", "value": 180}, "value": 0}}},
        {"data": {"name": "arrows"}, "transform": [{"filter": "datum.panel === 'C' && datum.xe > datum.x && datum.xe - datum.x < 0.21"}],
         "mark": {"type": "point", "shape": "M0,0L-1,-0.13L-1,0.13Z", "size": 2916, "filled": true, "opacity": 1, "color": "#231f20", "strokeWidth": 0},
         "encoding": {
           "x": {"field": "xe", "type": "quantitative", "scale": {"domain": [-2.99, 2.95], "nice": false, "zero": false}},
           "y": {"field": "y", "type": "quantitative", "scale": {"domain": [-30.91, 28.02], "nice": false, "zero": false}, "axis": null}}},
        {"data": {"name": "labels"}, "transform": [{"filter": "datum.panel === 'C' && datum.kind === 'letter'"}],
         "mark": {"type": "text", "fontSize": 30, "fontWeight": "bold", "color": "#231f20", "align": "center", "baseline": "middle"},
         "encoding": {
           "x": {"field": "x", "type": "quantitative", "scale": {"domain": [-2.99, 2.95], "nice": false, "zero": false}},
           "y": {"field": "y", "type": "quantitative", "scale": {"domain": [-30.91, 28.02], "nice": false, "zero": false}, "axis": null},
           "text": {"field": "text"}}},
        {"data": {"name": "labels"}, "transform": [{"filter": "datum.panel === 'C' && datum.kind === 'TD'"}],
         "mark": {"type": "text", "fontSize": 25, "color": "#a7a9ac", "align": "center", "baseline": "middle"},
         "encoding": {
           "x": {"field": "x", "type": "quantitative", "scale": {"domain": [-2.99, 2.95], "nice": false, "zero": false}},
           "y": {"field": "y", "type": "quantitative", "scale": {"domain": [-30.91, 28.02], "nice": false, "zero": false}, "axis": null},
           "text": {"field": "text"}}},
        {"data": {"name": "labels"}, "transform": [{"filter": "datum.panel === 'C' && datum.kind === 'ASD'"}],
         "mark": {"type": "text", "fontSize": 25, "fontWeight": "bold", "color": "#9d9fa2", "align": "center", "baseline": "middle"},
         "encoding": {
           "x": {"field": "x", "type": "quantitative", "scale": {"domain": [-2.99, 2.95], "nice": false, "zero": false}},
           "y": {"field": "y", "type": "quantitative", "scale": {"domain": [-30.91, 28.02], "nice": false, "zero": false}, "axis": null},
           "text": {"field": "text"}}},
        {"data": {"name": "labels"}, "transform": [{"filter": "datum.panel === 'C' && (datum.kind === 'condition' || datum.kind === 'number')"}],
         "mark": {"type": "text", "fontSize": 25, "color": "#231f20", "align": "center", "baseline": "middle"},
         "encoding": {
           "x": {"field": "x", "type": "quantitative", "scale": {"domain": [-2.99, 2.95], "nice": false, "zero": false}},
           "y": {"field": "y", "type": "quantitative", "scale": {"domain": [-30.91, 28.02], "nice": false, "zero": false}, "axis": null},
           "text": {"field": "text"}}}
      ]
    }
  ]
}
